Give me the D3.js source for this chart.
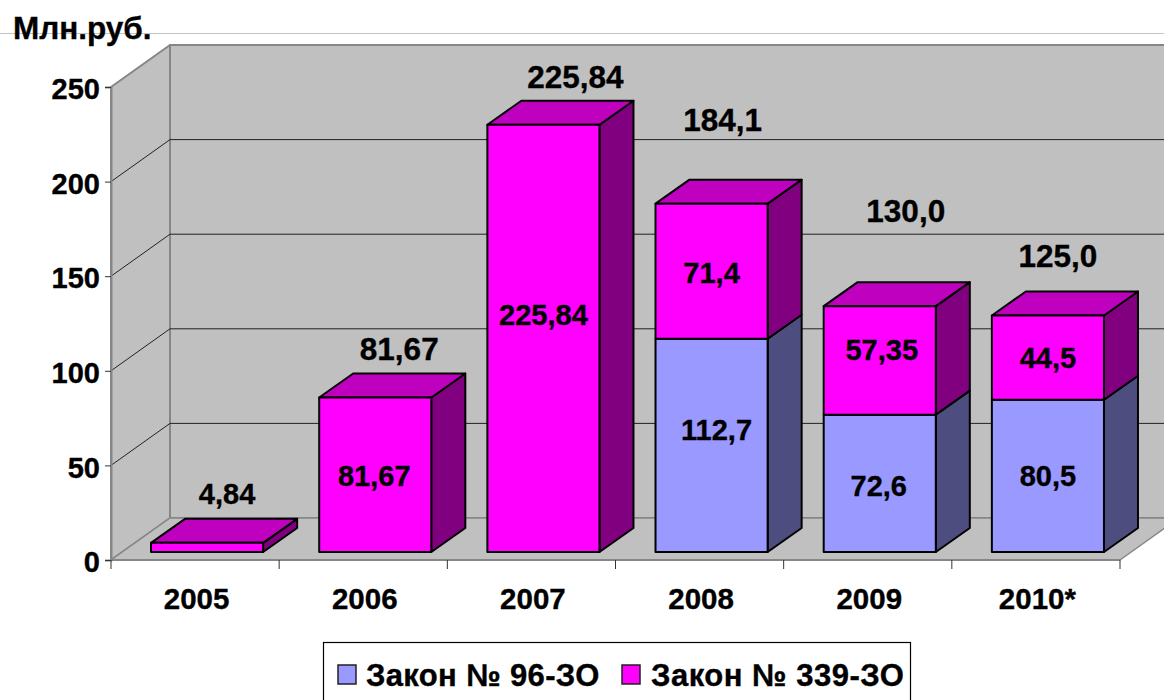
<!DOCTYPE html>
<html><head><meta charset="utf-8">
<script src="https://cdn.jsdelivr.net/npm/d3@7"></script>
<style>html,body{margin:0;padding:0;background:#fff}svg{display:block}text{font-family:"Liberation Sans",Arial,sans-serif;font-weight:700;fill:#000;stroke:#000;stroke-width:.35px}</style>
</head><body><svg id="c" width="1164" height="700"></svg>
<script>
const years=["2005","2006","2007","2008","2009","2010*"];
const law96=[0,0,0,112.7,72.6,80.5];
const law339=[4.84,81.67,225.84,71.4,57.35,44.5];
const totals=["4,84","81,67","225,84","184,1","130,0","125,0"];
const labels96=["","","","112,7","72,6","80,5"];
const labels339=["","81,67","225,84","71,4","57,35","44,5"];
const yTicks=[0,50,100,150,200,250];
const legendNames=["Закон № 96-ЗО","Закон № 339-ЗО"];

const svg=d3.select("#c");
const X0=111,X1=1120,Y0=560,Y1=87;
const depth={x:59,y:-42};
const y=d3.scaleLinear().domain([0,250]).range([Y0,Y1]);
const x=d3.scaleBand().domain(years).range([X0,X1]).paddingInner(1/3).paddingOuter(1/6);
const step=x.step();
const barShift={x:12,y:-8},barDepth={x:34,y:-24};
const poly=(pts,fill,stroke,sw)=>svg.append("polygon").attr("points",pts.map(p=>p.join(",")).join(" ")).attr("fill",fill).attr("stroke",stroke).attr("stroke-width",sw).attr("stroke-linejoin","round");
const wallGrey="#c0c0c0",edge="#868686";

svg.append("line").attr("x1",0).attr("x2",1164).attr("y1",33.5).attr("y2",33.5).attr("stroke","#c4c4c4").attr("stroke-width",1);

// walls and floor
poly([[X0+depth.x,y(250)+depth.y],[1200,y(250)+depth.y],[1200,y(0)+depth.y],[X0+depth.x,y(0)+depth.y]],wallGrey,edge,2);
poly([[X0,y(250)],[X0+depth.x,y(250)+depth.y],[X0+depth.x,y(0)+depth.y],[X0,y(0)]],wallGrey,edge,2);
poly([[X0,y(0)],[X0+depth.x,y(0)+depth.y],[X1+depth.x,y(0)+depth.y],[X1,y(0)]],wallGrey,edge,1.5);

// gridlines
yTicks.filter(t=>t>0&&t<250).forEach(t=>{
  svg.append("path").attr("d",`M${X0},${y(t)}L${X0+depth.x},${y(t)+depth.y}L1164,${y(t)+depth.y}`).attr("fill","none").attr("stroke","#222").attr("stroke-width",1);
});

// axes
const yAxis=d3.axisLeft(y).tickValues(yTicks).tickSize(6).tickPadding(5);
const gy=svg.append("g").attr("transform",`translate(${X0},0)`).call(yAxis);
gy.select(".domain").attr("stroke",edge).attr("stroke-width",2);
gy.selectAll(".tick line").attr("stroke","#333");
gy.selectAll(".tick text").attr("font-size",29).attr("font-family","Liberation Sans").attr("font-weight",700).attr("fill","#000").attr("dy","0.4em");
const xb=d3.scaleBand().domain(years).range([X0+1.5,X1+1.5]);
const gx=svg.append("g").attr("transform",`translate(0,${Y0})`).call(d3.axisBottom(xb).tickSize(0).tickPadding(28));
gx.select(".domain").attr("stroke","none");
svg.append("line").attr("x1",X0).attr("x2",X1).attr("y1",Y0).attr("y2",Y0).attr("stroke",edge).attr("stroke-width",2);
gx.selectAll(".tick text").attr("font-size",29.5).attr("font-family","Liberation Sans").attr("font-weight",700).attr("fill","#000");
d3.range(years.length+1).forEach(i=>{
  const px=X0+i*step;
  svg.append("line").attr("x1",px).attr("x2",px).attr("y1",Y0).attr("y2",Y0+9).attr("stroke","#333").attr("stroke-width",1);
});

// bars
const cols={a:{f:"#9999ff",s:"#4d4d80",t:"#7a7acc"},b:{f:"#ff00ff",s:"#800080",t:"#bf00bf"}};
function seg(i,from,to,c,showTop){
  const l=x(years[i])+barShift.x,r=l+x.bandwidth(),b=y(from)+barShift.y,t=y(to)+barShift.y,dx=barDepth.x,dy=barDepth.y;
  poly([[r,b],[r+dx,b+dy],[r+dx,t+dy],[r,t]],c.s,"#000",2);
  if(showTop)poly([[l,t],[l+dx,t+dy],[r+dx,t+dy],[r,t]],c.t,"#000",2);
  poly([[l,b],[r,b],[r,t],[l,t]],c.f,"#000",2);
}
years.forEach((d,i)=>{
  if(law96[i]>0)seg(i,0,law96[i],cols.a,false);
  seg(i,law96[i],law96[i]+law339[i],cols.b,true);
});

// value labels
const txt=(s,px,py,fs)=>svg.append("text").attr("x",px).attr("y",py).attr("text-anchor","middle").attr("dominant-baseline","central").attr("font-size",fs).text(s);
const cx=i=>x(years[i])+barShift.x+x.bandwidth()/2;
const nudgeTotal=[[20,-49],[24,-48],[32,-48],[11,-84],[26,-95],[10,-60]];
const nudge96=[[0,0],[0,0],[0,0],[5,-15],[-1,3],[0,0]];
const nudge339=[[0,0],[-1,1],[0,-23],[0,2],[2,-10],[0,0]];
years.forEach((d,i)=>{
  const top=law96[i]+law339[i];
  if(labels96[i])txt(labels96[i],cx(i)+nudge96[i][0],y(law96[i]/2)+barShift.y+nudge96[i][1],29);
  if(labels339[i])txt(labels339[i],cx(i)+nudge339[i][0],y(law96[i]+law339[i]/2)+barShift.y+nudge339[i][1],29);
  txt(totals[i],cx(i)+nudgeTotal[i][0],y(top)+barShift.y+nudgeTotal[i][1],i===0?29:31.5);
});

svg.append("text").attr("x",13).attr("y",39).attr("font-size",31.5).text("Млн.руб.");

// legend
svg.append("rect").attr("x",323.5).attr("y",642.5).attr("width",587).attr("height",70).attr("fill","#fff").attr("stroke","#000").attr("stroke-width",1.2);
[[338,cols.a.f,366,0.35],[622,cols.b.f,651,0.5]].forEach((e,i)=>{
  svg.append("rect").attr("x",e[0]).attr("y",665).attr("width",18).attr("height",19).attr("fill",e[1]).attr("stroke","#222").attr("stroke-width",1.5);
  svg.append("text").attr("x",e[2]).attr("y",686).attr("font-size",31).attr("letter-spacing",e[3]).text(legendNames[i]);
});
</script></body></html>
